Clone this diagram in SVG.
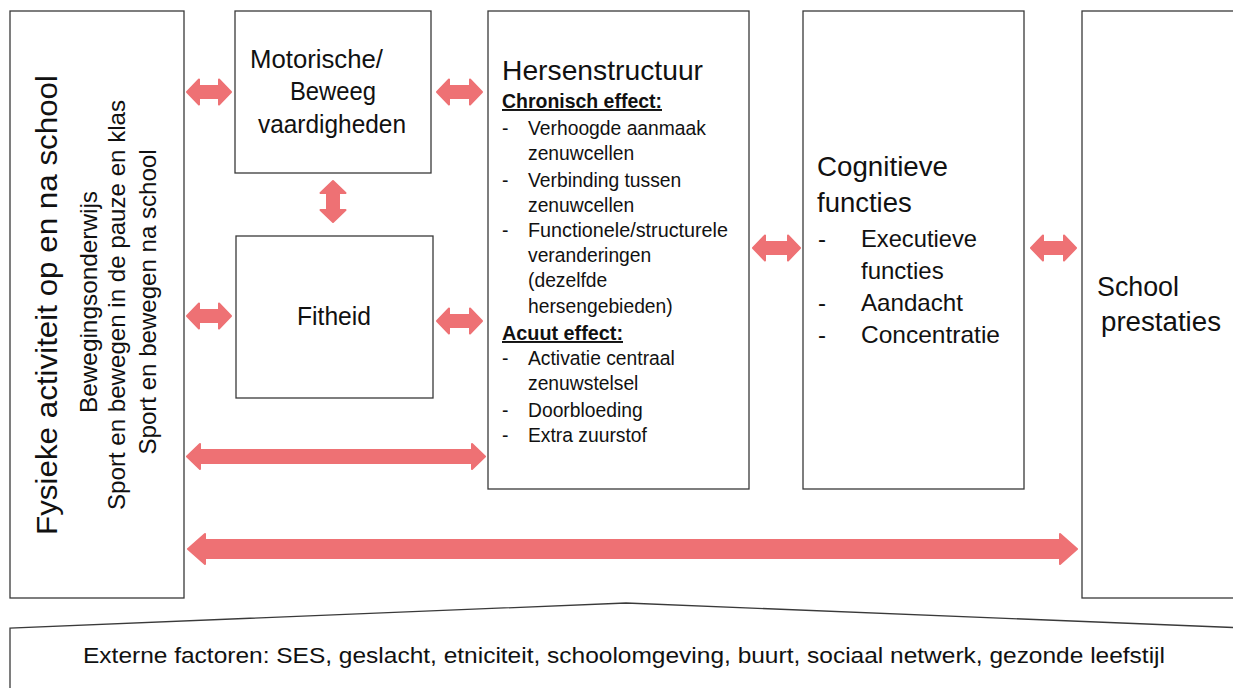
<svg xmlns="http://www.w3.org/2000/svg" width="1233" height="688" viewBox="0 0 1233 688">
<style>
.box{fill:#fff;stroke:#3a3a3a;stroke-width:1.3}
.arr{fill:#ee7174;stroke:#ee7174;stroke-width:2;stroke-linejoin:round}
text{font-family:"Liberation Sans",Arial,sans-serif;fill:#111}
.b{font-weight:bold;text-decoration:underline}
.it{font-size:19.3px}
</style>
<rect width="1233" height="688" fill="#fff"/>
<g id="node-fysiek">
<rect class="box" x="10" y="11" width="174" height="587"/>
<text transform="translate(57,305) rotate(-90)" text-anchor="middle" font-size="29" textLength="460" lengthAdjust="spacingAndGlyphs">Fysieke activiteit op en na school</text>
<text transform="translate(97,302) rotate(-90)" text-anchor="middle" font-size="24" textLength="222" lengthAdjust="spacingAndGlyphs">Bewegingsonderwijs</text>
<text transform="translate(125,305) rotate(-90)" text-anchor="middle" font-size="24" textLength="410" lengthAdjust="spacingAndGlyphs">Sport en bewegen in de pauze en klas</text>
<text transform="translate(156,302) rotate(-90)" text-anchor="middle" font-size="24" textLength="305" lengthAdjust="spacingAndGlyphs">Sport en bewegen na school</text>
</g>
<g id="node-motorisch">
<rect class="box" x="235" y="11" width="196" height="162"/>
<text x="250" y="68" font-size="25.5" textLength="133" lengthAdjust="spacingAndGlyphs">Motorische/</text>
<text x="290" y="100" font-size="25.5" textLength="86" lengthAdjust="spacingAndGlyphs">Beweeg</text>
<text x="258" y="133" font-size="25.5" textLength="148" lengthAdjust="spacingAndGlyphs">vaardigheden</text>
</g>
<g id="node-fitheid">
<rect class="box" x="236" y="236" width="197" height="162"/>
<text x="297" y="325" font-size="25" textLength="74" lengthAdjust="spacingAndGlyphs">Fitheid</text>
</g>
<g id="node-hersen">
<rect class="box" x="488" y="11" width="261" height="478"/>
<text x="502" y="80" font-size="28" textLength="201" lengthAdjust="spacingAndGlyphs">Hersenstructuur</text>
<text class="b" x="502" y="108" font-size="19.5" textLength="160" lengthAdjust="spacingAndGlyphs">Chronisch effect:</text>
<g class="it">
<text x="502" y="135">-</text><text x="528" y="135">Verhoogde aanmaak</text>
<text x="528" y="160">zenuwcellen</text>
<text x="502" y="187">-</text><text x="528" y="187">Verbinding tussen</text>
<text x="528" y="212">zenuwcellen</text>
<text x="502" y="237">-</text><text x="528" y="237" textLength="200" lengthAdjust="spacingAndGlyphs">Functionele/structurele</text>
<text x="528" y="262">veranderingen</text>
<text x="528" y="287">(dezelfde</text>
<text x="528" y="313">hersengebieden)</text>
<text x="502" y="365">-</text><text x="528" y="365">Activatie centraal</text>
<text x="528" y="390">zenuwstelsel</text>
<text x="502" y="417">-</text><text x="528" y="417">Doorbloeding</text>
<text x="502" y="442">-</text><text x="528" y="442">Extra zuurstof</text>
</g>
<text class="b" x="502" y="340" font-size="19.5" textLength="121" lengthAdjust="spacingAndGlyphs">Acuut effect:</text>
</g>
<g id="node-cognitief">
<rect class="box" x="803" y="11" width="221" height="478"/>
<text x="817" y="176" font-size="27.5" textLength="131" lengthAdjust="spacingAndGlyphs">Cognitieve</text>
<text x="817" y="212" font-size="27.5">functies</text>
<g font-size="24">
<text x="818" y="247">-</text><text x="861" y="247" textLength="116" lengthAdjust="spacingAndGlyphs">Executieve</text>
<text x="861" y="279">functies</text>
<text x="818" y="311">-</text><text x="861" y="311" textLength="102" lengthAdjust="spacingAndGlyphs">Aandacht</text>
<text x="818" y="343">-</text><text x="861" y="343" textLength="139" lengthAdjust="spacingAndGlyphs">Concentratie</text>
</g>
</g>
<g id="node-school">
<rect class="box" x="1082" y="11" width="160" height="587"/>
<text x="1097" y="296" font-size="27" textLength="82" lengthAdjust="spacingAndGlyphs">School</text>
<text x="1101" y="331" font-size="27" textLength="120" lengthAdjust="spacingAndGlyphs">prestaties</text>
</g>
<g id="node-extern">
<path class="box" d="M10,700 L10,628 L626,603 L1245,628 L1245,700 Z"/>
<text x="83" y="663" font-size="22" textLength="1082" lengthAdjust="spacingAndGlyphs">Externe factoren: SES, geslacht, etniciteit, schoolomgeving, buurt, sociaal netwerk, gezonde leefstijl</text>
</g>
<g id="connectors">
<path class="arr" d="M187,92 L199,79.5 L199,86 L219,86 L219,79.5 L231,92 L219,104.5 L219,98 L199,98 L199,104.5 Z"/>
<path class="arr" d="M437,92 L449,79.5 L449,86 L470,86 L470,79.5 L482,92 L470,104.5 L470,98 L449,98 L449,104.5 Z"/>
<path class="arr" d="M187,316 L199,303.5 L199,310 L219,310 L219,303.5 L231,316 L219,328.5 L219,322 L199,322 L199,328.5 Z"/>
<path class="arr" d="M437,321 L449,308.5 L449,315 L470,315 L470,308.5 L482,321 L470,333.5 L470,327 L449,327 L449,333.5 Z"/>
<path class="arr" d="M333,181 L345.5,193 L339,193 L339,210 L345.5,210 L333,222 L320.5,210 L327,210 L327,193 L320.5,193 Z"/>
<path class="arr" d="M187,456.5 L200,444 L200,450 L472,450 L472,444 L485,456.5 L472,469 L472,463 L200,463 L200,469 Z"/>
<path class="arr" d="M753,248 L765,235.5 L765,242 L788,242 L788,235.5 L800,248 L788,260.5 L788,254 L765,254 L765,260.5 Z"/>
<path class="arr" d="M1031,248 L1043,235.5 L1043,242 L1064,242 L1064,235.5 L1076,248 L1064,260.5 L1064,254 L1043,254 L1043,260.5 Z"/>
<path class="arr" d="M188,549 L205,534 L205,540 L1060,540 L1060,534 L1077,549 L1060,564 L1060,558 L205,558 L205,564 Z"/>
</g>
</svg>
